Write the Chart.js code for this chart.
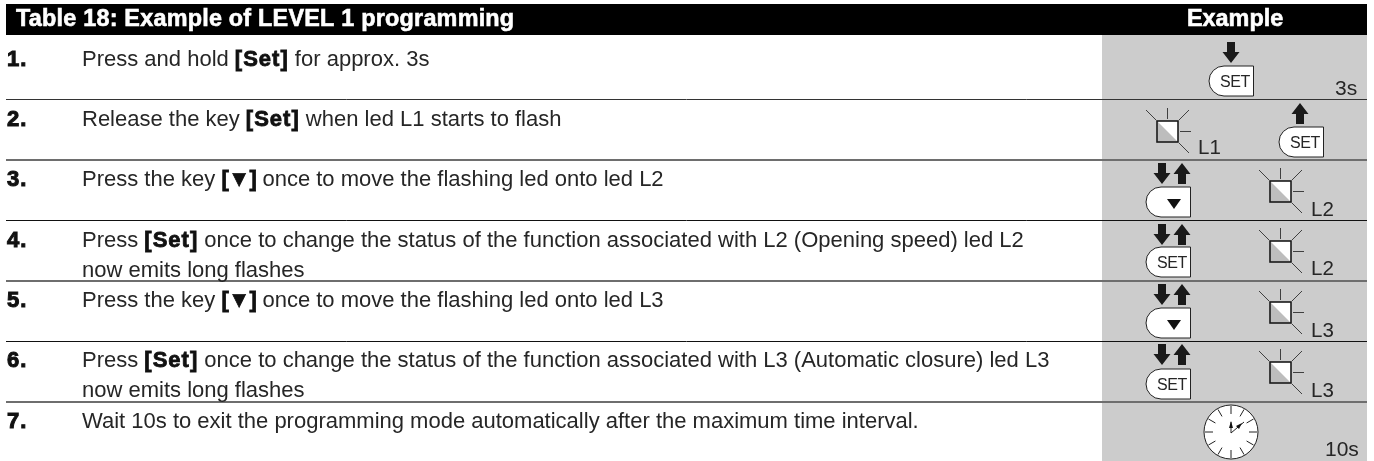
<!DOCTYPE html>
<html lang="en">
<head>
    <meta charset="UTF-8">
    <title>Table 18</title>
    <style>
      html, body { margin: 0; padding: 0; background: #fff; }
      canvas { display: block; }
    </style>
</head>
<body>
    <canvas id="tabela" width="1374" height="461" style="width: 1374px; height: 461px;"></canvas>
    <script src="https://cdn.jsdelivr.net/npm/chart.js"></script>
    <script>
      // table content
      const tableTitle = 'Table 18: Example of LEVEL 1 programming';
      const exampleTitle = 'Example';
      const stepNumbers = ['1.', '2.', '3.', '4.', '5.', '6.', '7.'];
      const stepLines = [
        ['Press and hold **[Set]** for approx. 3s'],
        ['Release the key **[Set]** when led L1 starts to flash'],
        ['Press the key **[▼]** once to move the flashing led onto led L2'],
        ['Press **[Set]** once to change the status of the function associated with L2 (Opening speed) led L2', 'now emits long flashes'],
        ['Press the key **[▼]** once to move the flashing led onto led L3'],
        ['Press **[Set]** once to change the status of the function associated with L3 (Automatic closure) led L3', 'now emits long flashes'],
        ['Wait 10s to exit the programming mode automatically after the maximum time interval.']
      ];
      const timeLabels = ['3s', '10s'];
      const ledLabels = ['L1', 'L2', 'L2', 'L3', 'L3'];
      const keyLabels = ['SET', 'SET', 'SET', 'SET'];

      // layout, 1 axis unit = 1 px
      const rowEdges = [99, 160, 220, 281, 341, 402];
      const edgeColors = ['#333', '#6e6e6e', '#111', '#6e6e6e', '#111', '#6e6e6e'];
      const edgeWidths = [1, 2, 1, 2, 1, 2];
      const baselines = [66, 126, 186, 247, 307, 367, 428];
      const FONT = '"Liberation Sans", Arial, sans-serif';
      const INK = '#262626';

      const arrow = (ctx, cx, top, up) => {
        const h = 21, s = up ? -1 : 1, y0 = up ? top + h : top;
        ctx.fillStyle = '#1a1a1a';
        ctx.beginPath();
        ctx.moveTo(cx - 4, y0);
        ctx.lineTo(cx + 4, y0);
        ctx.lineTo(cx + 4, y0 + s * 10);
        ctx.lineTo(cx + 8.5, y0 + s * 10);
        ctx.lineTo(cx, y0 + s * h);
        ctx.lineTo(cx - 8.5, y0 + s * 10);
        ctx.lineTo(cx - 4, y0 + s * 10);
        ctx.closePath();
        ctx.fill();
      };

      const keyShape = (ctx, x, y) => {
        const w = 44.5, h = 30, r = 15;
        ctx.beginPath();
        ctx.moveTo(x + w, y);
        ctx.lineTo(x + r, y);
        ctx.arc(x + r, y + r, r, -Math.PI / 2, Math.PI / 2, true);
        ctx.lineTo(x + w, y + h);
        ctx.closePath();
        ctx.fillStyle = '#fff';
        ctx.fill();
        ctx.strokeStyle = '#222';
        ctx.lineWidth = 1;
        ctx.stroke();
      };

      const setKey = (ctx, x, y, label) => {
        keyShape(ctx, x, y);
        ctx.fillStyle = INK;
        ctx.font = '16px ' + FONT;
        ctx.letterSpacing = '-0.4px';
        ctx.textAlign = 'left';
        ctx.fillText(label, x + 11, y + 21);
        ctx.letterSpacing = '0px';
      };

      const downKey = (ctx, x, y) => {
        keyShape(ctx, x, y);
        ctx.fillStyle = '#111';
        ctx.beginPath();
        ctx.moveTo(x + 21, y + 12);
        ctx.lineTo(x + 35, y + 12);
        ctx.lineTo(x + 28, y + 22);
        ctx.closePath();
        ctx.fill();
      };

      const seg = (ctx, x1, y1, x2, y2) => {
        ctx.beginPath();
        ctx.moveTo(x1, y1);
        ctx.lineTo(x2, y2);
        ctx.stroke();
      };

      const led = (ctx, x, y, label, labelY) => {
        ctx.fillStyle = '#fff';
        ctx.fillRect(x, y, 21, 21);
        ctx.fillStyle = '#bdbdbd';
        ctx.beginPath();
        ctx.moveTo(x, y);
        ctx.lineTo(x + 21, y + 21);
        ctx.lineTo(x, y + 21);
        ctx.closePath();
        ctx.fill();
        ctx.strokeStyle = '#1a1a1a';
        ctx.lineWidth = 1.6;
        ctx.strokeRect(x, y, 21, 21);
        ctx.lineWidth = 0.8;
        seg(ctx, x + 10.5, y - 13, x + 10.5, y - 2);
        seg(ctx, x - 11, y - 11, x - 1, y - 1);
        seg(ctx, x + 32, y - 11, x + 22, y - 1);
        seg(ctx, x + 23, y + 10.5, x + 34, y + 10.5);
        seg(ctx, x + 22, y + 22, x + 32, y + 32);
        ctx.fillStyle = INK;
        ctx.font = '20.5px ' + FONT;
        ctx.textAlign = 'left';
        ctx.fillText(label, x + 41, labelY);
      };

      const clock = (ctx, cx, cy) => {
        const r = 27;
        ctx.fillStyle = '#fff';
        ctx.beginPath();
        ctx.arc(cx, cy, r, 0, Math.PI * 2);
        ctx.fill();
        ctx.strokeStyle = '#222';
        ctx.lineWidth = 1;
        ctx.stroke();
        for (let i = 0; i < 12; i++) {
          const a = i * Math.PI / 6;
          seg(ctx, cx + Math.cos(a) * (r - 1), cy + Math.sin(a) * (r - 1), cx + Math.cos(a) * (r - 9), cy + Math.sin(a) * (r - 9));
        }
        seg(ctx, cx, cy + 1, cx, cy - 10);
        seg(ctx, cx, cy + 1, cx + 13, cy - 10);
        ctx.fillStyle = '#111';
        ctx.beginPath();
        ctx.moveTo(cx, cy - 11);
        ctx.lineTo(cx + 2, cy - 4);
        ctx.lineTo(cx - 2, cy - 4);
        ctx.closePath();
        ctx.fill();
        ctx.beginPath();
        ctx.moveTo(cx + 11, cy - 9);
        ctx.lineTo(cx + 8, cy - 3);
        ctx.lineTo(cx + 5, cy - 6);
        ctx.closePath();
        ctx.fill();
      };

      const richLine = (ctx, text, x, y) => {
        text.split('**').forEach((part, i) => {
          const bold = i % 2 === 1;
          ctx.font = (bold ? 'bold ' : '') + '22px ' + FONT;
          ctx.letterSpacing = bold ? (part.includes('▼') ? '-0.5px' : '1px') : '0px';
          ctx.fillStyle = bold ? '#111' : INK;
          ctx.fillText(part, x, y);
          if (bold) {
            ctx.strokeStyle = '#111';
            ctx.lineWidth = 0.8;
            ctx.strokeText(part, x, y);
          }
          x += ctx.measureText(part).width;
        });
        ctx.letterSpacing = '0px';
      };

      const tablePlugin = {
        id: 'tablePlugin',
        afterDraw(chart) {
          const ctx = chart.ctx;
          const sx = chart.scales.x, sy = chart.scales.y;
          ctx.save();
          ctx.textBaseline = 'alphabetic';
          ctx.textAlign = 'left';

          // header
          ctx.font = 'bold 23.4px ' + FONT;
          ctx.fillStyle = '#fff';
          ctx.strokeStyle = '#fff';
          ctx.lineWidth = 0.6;
          ctx.letterSpacing = '0.22px';
          ctx.fillText(tableTitle, sx.getPixelForValue(16), sy.getPixelForValue(26));
          ctx.strokeText(tableTitle, sx.getPixelForValue(16), sy.getPixelForValue(26));
          ctx.letterSpacing = '0px';
          ctx.fillText(exampleTitle, sx.getPixelForValue(1187), sy.getPixelForValue(26));
          ctx.strokeText(exampleTitle, sx.getPixelForValue(1187), sy.getPixelForValue(26));

          // text column
          stepNumbers.forEach((num, i) => {
            const y = sy.getPixelForValue(baselines[i]);
            ctx.font = 'bold 22px ' + FONT;
            ctx.fillStyle = '#111';
            ctx.strokeStyle = '#111';
            ctx.lineWidth = 1;
            ctx.letterSpacing = '1px';
            ctx.fillText(num, sx.getPixelForValue(7), y);
            ctx.strokeText(num, sx.getPixelForValue(7), y);
            ctx.letterSpacing = '0px';
            stepLines[i].forEach((line, j) => {
              richLine(ctx, line, sx.getPixelForValue(82), y + j * 30);
            });
          });

          // example column
          ctx.fillStyle = INK;
          ctx.font = '21px ' + FONT;
          ctx.fillText(timeLabels[0], 1335, 95);
          ctx.fillText(timeLabels[1], 1325, 456);

          arrow(ctx, 1231, 42, false);
          setKey(ctx, 1209, 66, keyLabels[0]);

          led(ctx, 1157, 121, ledLabels[0], 154);
          arrow(ctx, 1300, 103, true);
          setKey(ctx, 1279, 127, keyLabels[1]);

          arrow(ctx, 1162, 163, false);
          arrow(ctx, 1182, 163, true);
          downKey(ctx, 1146, 187);
          led(ctx, 1270, 181, ledLabels[1], 216);

          arrow(ctx, 1162, 224, false);
          arrow(ctx, 1182, 224, true);
          setKey(ctx, 1146, 247, keyLabels[2]);
          led(ctx, 1270, 241, ledLabels[2], 275);

          arrow(ctx, 1162, 284, false);
          arrow(ctx, 1182, 284, true);
          downKey(ctx, 1146, 308);
          led(ctx, 1270, 302, ledLabels[3], 337);

          arrow(ctx, 1162, 344, false);
          arrow(ctx, 1182, 344, true);
          setKey(ctx, 1146, 369, keyLabels[3]);
          led(ctx, 1270, 362, ledLabels[4], 397);

          clock(ctx, 1231, 432);
          ctx.restore();
        }
      };

      new Chart(document.getElementById('tabela'), {
        type: 'line',
        data: {
          datasets: [
            { // faixa preta do titulo
              data: [{ x: 6, y: 35 }, { x: 1367, y: 35 }],
              borderWidth: 0, pointRadius: 0, fill: 'end', backgroundColor: '#000'
            },
            { // coluna cinza
              data: [{ x: 1102, y: 35 }, { x: 1367, y: 35 }],
              borderWidth: 0, pointRadius: 0, fill: 'start', backgroundColor: '#cccccc'
            }
          ]
        },
        options: {
          responsive: false,
          animation: false,
          layout: { padding: { left: 6, right: 7, top: 4, bottom: 0 } },
          plugins: { legend: { display: false }, tooltip: { enabled: false } },
          scales: {
            x: { type: 'linear', min: 6, max: 1367, display: false },
            y: {
              type: 'linear', min: 4, max: 461, reverse: true,
              afterBuildTicks: (axis) => { axis.ticks = rowEdges.map(v => ({ value: v })); },
              ticks: { display: false },
              border: { display: false },
              grid: {
                z: 1, drawTicks: false,
                color: (c) => edgeColors[c.index],
                lineWidth: (c) => edgeWidths[c.index]
              }
            }
          }
        },
        plugins: [tablePlugin]
      });
    </script>
</body>
</html>
